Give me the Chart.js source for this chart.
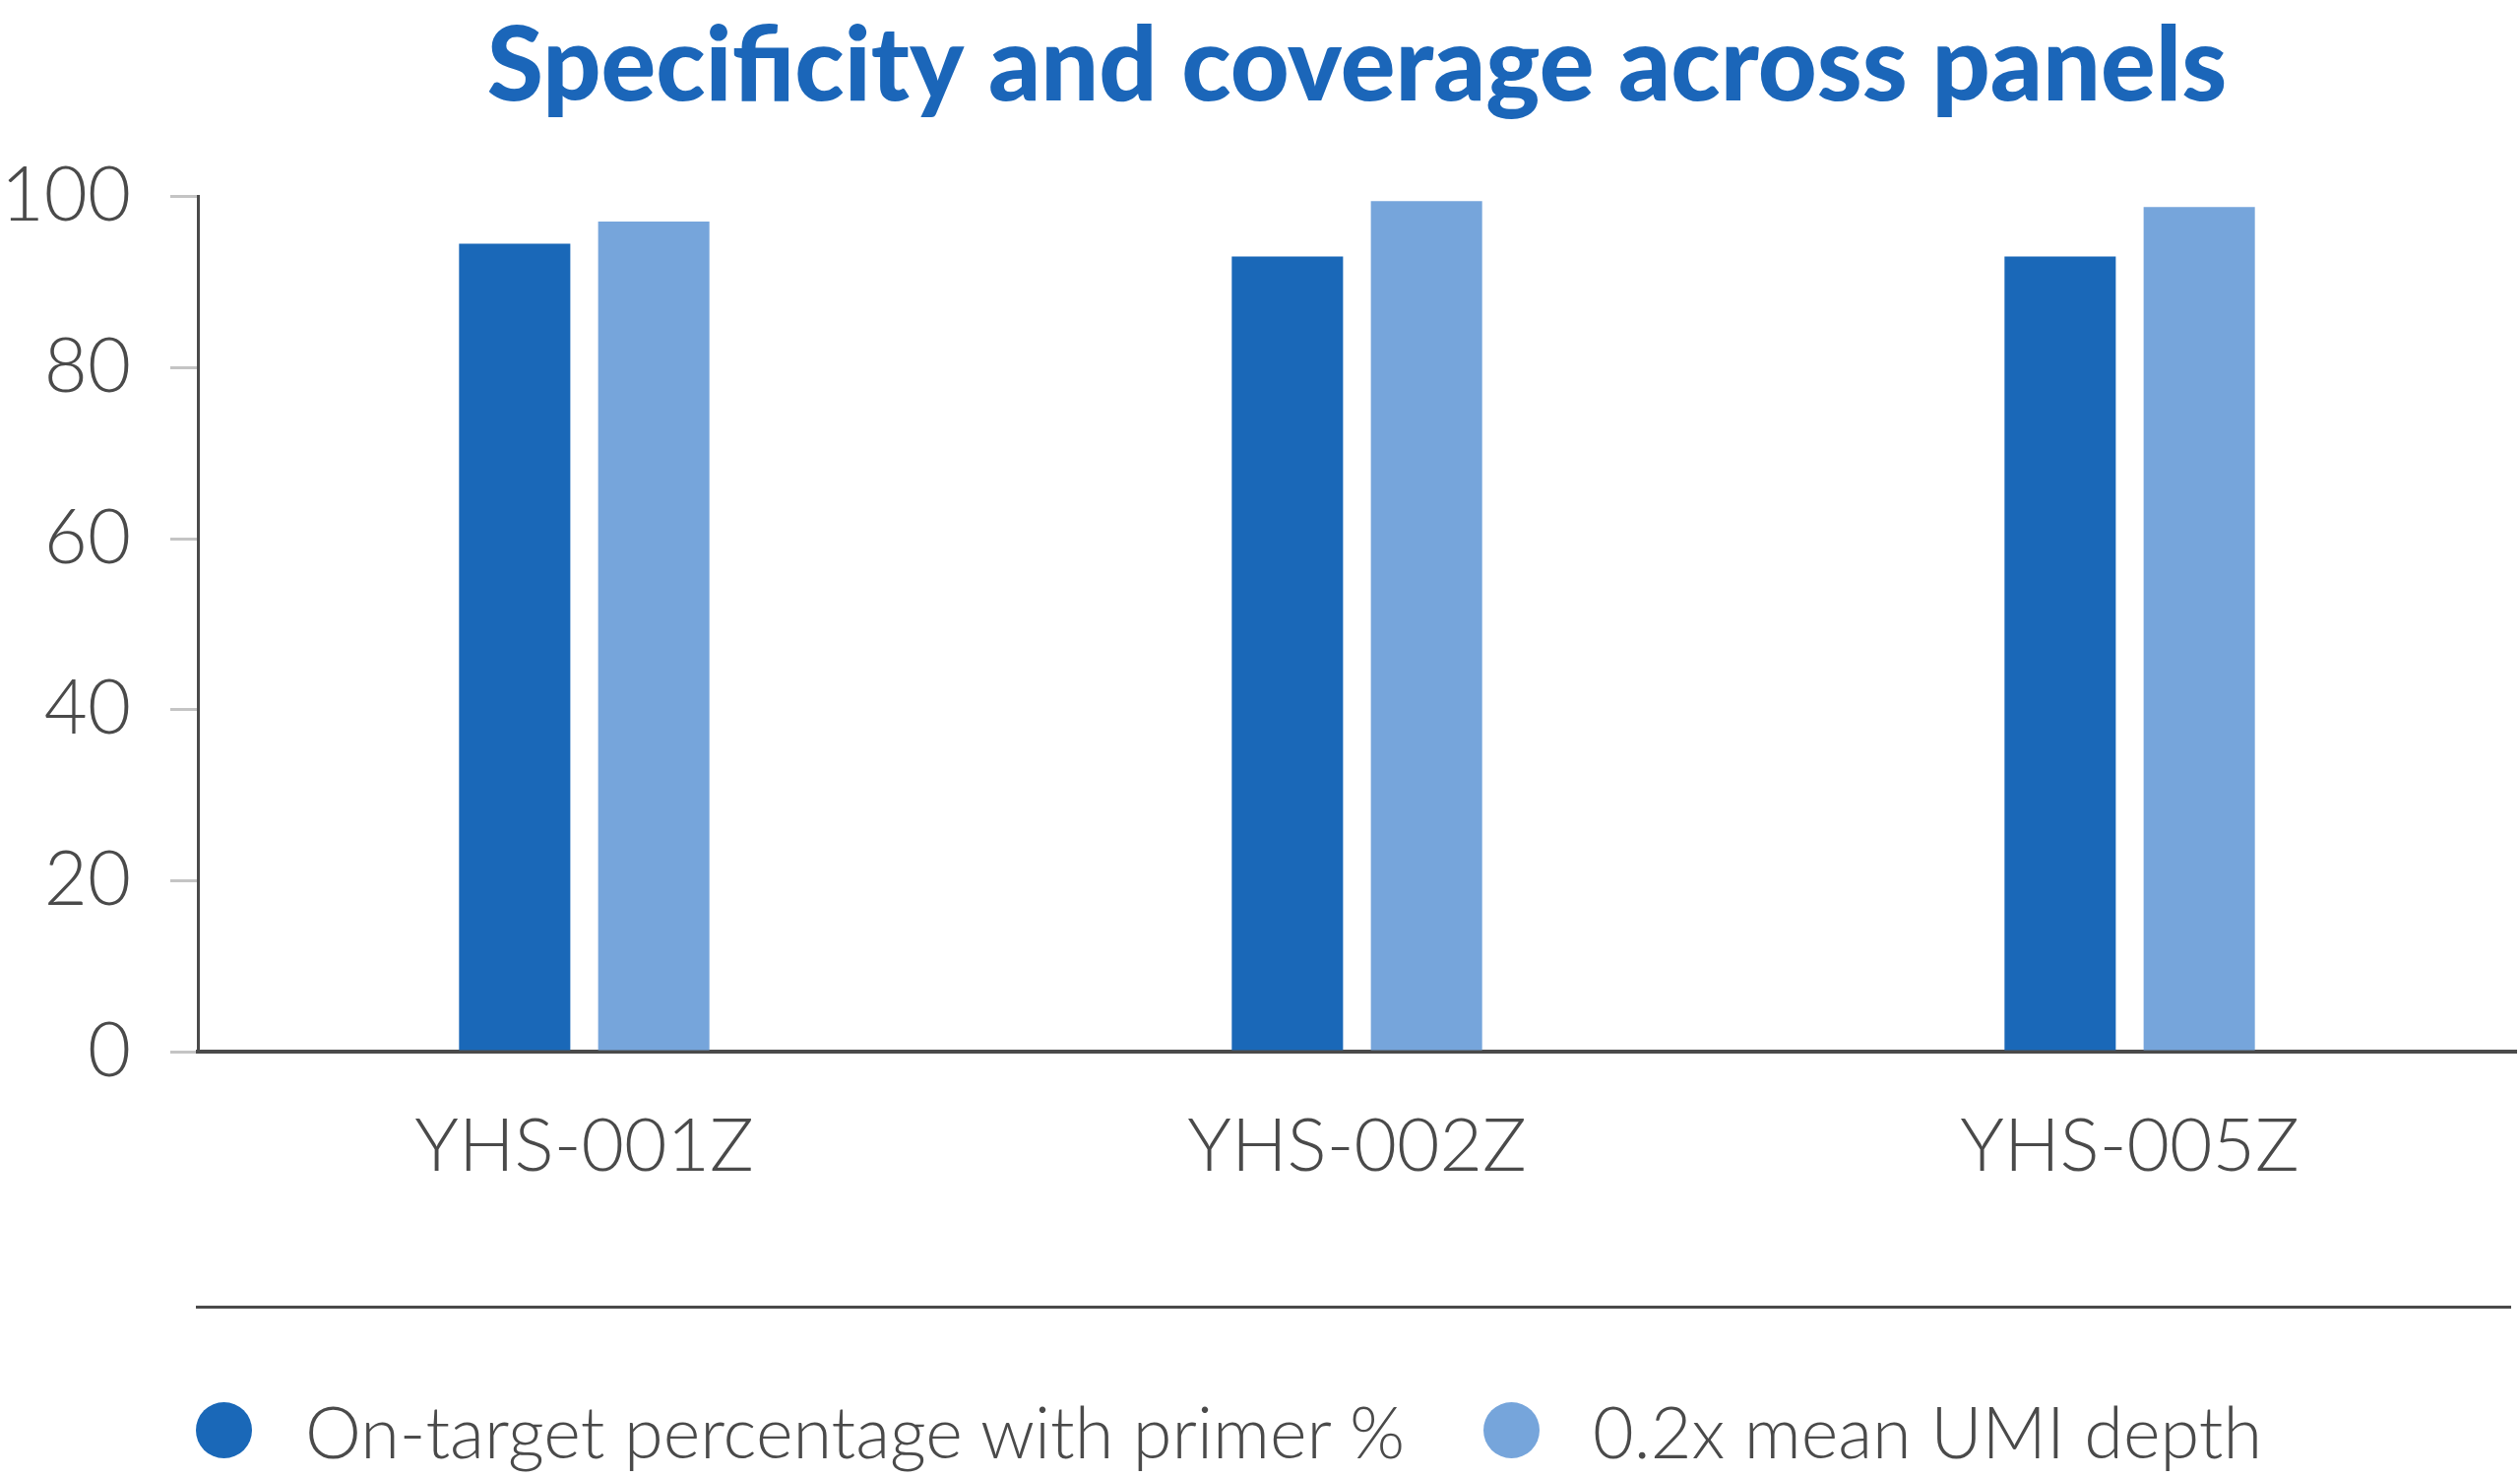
<!DOCTYPE html>
<html>
<head>
<meta charset="utf-8">
<script src="https://cdn.jsdelivr.net/npm/chart.js@4.4.1/dist/chart.umd.min.js"></script>
<style>
  html, body { margin: 0; padding: 0; background: #fff; }
  #wrap { position: absolute; left: 0; top: 0; width: 2560px; height: 1500px; }
  #sep { position: absolute; left: 199px; top: 1326px; width: 2352px; height: 0; border-top: 3px solid #4a4a4a; }
  #legend { position: absolute; left: 199px; top: 1405px; height: 95px; display: flex; align-items: center;
            font-family: Lato, sans-serif; font-weight: 300; font-size: 72px; color: #4a4a4a; white-space: nowrap; }
  .item { display: flex; align-items: center; margin-right: 80px; }
  .dot { width: 57px; height: 57px; border-radius: 50%; margin-right: 54px; }
</style>
</head>
<body>
<div id="wrap"><canvas id="bar-chart"></canvas></div>
<div id="sep"></div>
<div id="legend"></div>
<script>
// chart data
var panels = ["YHS-001Z", "YHS-002Z", "YHS-005Z"];
var onTarget = [94.5, 93.0, 93.0];
var umiDepth = [97.1, 99.5, 98.8];
var seriesNames = ["On-target percentage with primer %", "0.2x mean UMI depth"];
var seriesColors = ["#1a68b8", "#76a5db"];
var yTicks = [0, 20, 40, 60, 80, 100];

var textGrey = "#4a4a4a";

var myBar = new Chart(document.getElementById("bar-chart"), {
  type: 'bar',
  data: {
    labels: panels,
    datasets: [
      { label: seriesNames[0], data: onTarget, backgroundColor: seriesColors[0],
        categoryPercentage: 0.36, barPercentage: 0.8 },
      { label: seriesNames[1], data: umiDepth, backgroundColor: seriesColors[1],
        categoryPercentage: 0.36, barPercentage: 0.8 }
    ]
  },
  options: {
    responsive: true,
    maintainAspectRatio: false,
    animation: false,
    layout: { padding: { left: 0, right: 4, top: 0, bottom: 246 } },
    plugins: {
      legend: { display: false },
      tooltip: { enabled: false },
      title: {
        display: true,
        fullSize: false,
        text: 'Specificity and coverage across panels',
        color: '#1b66b9',
        font: { family: 'Lato', size: 104, weight: '900' },
        padding: { top: 6, bottom: 69 }
      }
    },
    scales: {
      x: {
        grid: { display: false },
        border: { display: true, color: textGrey, width: 4 },
        ticks: { color: textGrey, font: { family: 'Lato', size: 75, weight: '300' }, padding: 44 }
      },
      y: {
        min: 0,
        max: 100,
        afterBuildTicks: function (axis) {
          axis.ticks = yTicks.map(function (v) { return { value: v }; });
        },
        afterFit: function (axis) {
          axis.width = 201;
        },
        grid: { drawOnChartArea: false, color: '#c4c4c4', lineWidth: 3, tickLength: 28 },
        border: { display: true, color: textGrey, width: 3 },
        ticks: { color: textGrey, font: { family: 'Lato', size: 76, weight: '300' }, padding: 40 }
      }
    }
  }
});

// html legend under the separator line
var legendEl = document.getElementById("legend");
for (var i = 0; i < seriesNames.length; i++) {
  var item = document.createElement("div");
  item.className = "item";
  var dot = document.createElement("span");
  dot.className = "dot";
  dot.style.background = seriesColors[i];
  var txt = document.createElement("span");
  txt.textContent = seriesNames[i];
  item.appendChild(dot);
  item.appendChild(txt);
  legendEl.appendChild(item);
}
</script>
</body>
</html>
